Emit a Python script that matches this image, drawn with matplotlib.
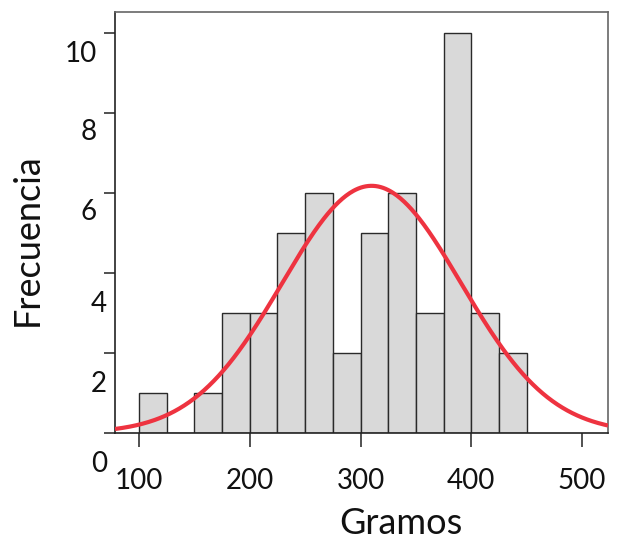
import numpy as np
import matplotlib
matplotlib.use("Agg")
import matplotlib.pyplot as plt
from matplotlib.transforms import ScaledTranslation

# Data
bin_edges = [100, 125, 150, 175, 200, 225, 250, 275, 300, 325, 350, 375, 400, 425, 450]
counts = [1, 0, 1, 3, 3, 5, 6, 2, 5, 6, 3, 10, 3, 2]
fit_mean = 310.0
fit_sd = 80.7
x_ticks = [100, 200, 300, 400, 500]
y_ticks = [0, 2, 4, 6, 8, 10]
y_tick_labels = ["0", "2", "4", "6", "8", "10"]

plt.rcParams['font.family'] = ['Lato', 'DejaVu Sans']

fig = plt.figure(figsize=(6.19, 5.43), dpi=100)
ax = fig.add_axes([115/619, (543-433)/543, (608-115)/619, (433-12)/543])

edges = np.array(bin_edges, dtype=float)
widths = np.diff(edges)
ax.bar(edges[:-1], counts, width=widths, align='edge',
       facecolor='#d9d9d9', edgecolor='#2a2a2a', linewidth=1.0, zorder=2)

xlim = (78.4, 523.4)
xs = np.linspace(xlim[0], xlim[1], 400)
n_total = sum(counts)
bw = widths[0]
ys = n_total * bw / (fit_sd * np.sqrt(2*np.pi)) * np.exp(-0.5*((xs-fit_mean)/fit_sd)**2)
ax.plot(xs, ys, color='#ee3340', linewidth=3, zorder=3, solid_capstyle='butt')

ax.set_xlim(*xlim)
ax.set_ylim(0, 10.525)
ax.set_xticks(x_ticks)
ax.set_xticklabels([str(t) for t in x_ticks])
ax.set_yticks(y_ticks)
ax.set_yticklabels(y_tick_labels)

for s in ['top', 'right']:
    ax.spines[s].set_color('#666666')
    ax.spines[s].set_linewidth(1.2)
for s in ['left', 'bottom']:
    ax.spines[s].set_color('#222222')
    ax.spines[s].set_linewidth(1.2)

ax.tick_params(axis='x', direction='out', length=10, width=1.2, color='#333333',
               pad=15, labelsize=20, labelcolor='#111111')
ax.tick_params(axis='y', direction='out', length=8, width=1.2, color='#333333',
               pad=5, labelsize=20, labelcolor='#111111')

# shift y tick labels downward as in the reference
offsets_px = [(10, -29), (10, -29), (10, -29), (0, -17), (0, -17), (0, -18)]
for lab, (dx, dy) in zip(ax.get_yticklabels(), offsets_px):
    lab.set_transform(lab.get_transform() + ScaledTranslation(dx/100, dy/100, fig.dpi_scale_trans))

fig.text(401/619, 1 - 523/543, "Gramos", ha='center', va='center', fontsize=26, color='#111111')
fig.text(27/619, 1 - 240/543, "Frecuencia", ha='center', va='center', rotation=90,
         fontsize=26, color='#111111')

fig.savefig("out.png", dpi=100)
